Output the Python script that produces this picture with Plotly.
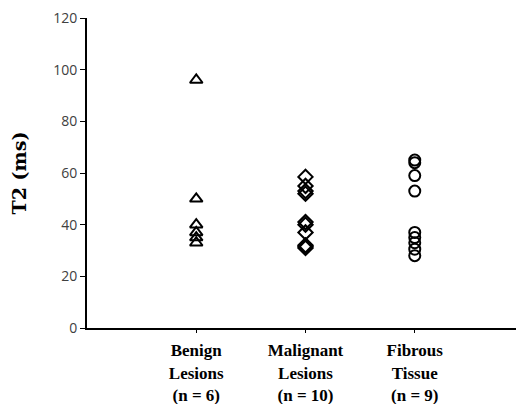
import plotly.graph_objects as go

categories = ["<b>Benign<br>Lesions<br>(n = 6)</b>", "<b>Malignant<br>Lesions<br>(n = 10)</b>", "<b>Fibrous<br>Tissue<br>(n = 9)</b>"]
cat_pos = [1, 2, 3]
benign = [96, 50, 40, 37, 35, 33]
malignant = [58.5, 55, 53, 52, 41, 40, 37, 32, 31.5, 31]
fibrous = [65, 64, 59, 53, 37, 35, 33, 30.5, 28]
y_ticks = [0, 20, 40, 60, 80, 100, 120]

fig = go.Figure()
series = [(benign, "triangle-up-open", 11), (malignant, "diamond-open", 11), (fibrous, "circle-open", 11)]
for i, (vals, sym, sz) in enumerate(series):
    fig.add_trace(go.Scatter(
        x=[cat_pos[i]] * len(vals), y=vals, mode="markers",
        marker=dict(symbol=sym, size=sz, color="black", line=dict(width=2, color="black")),
        showlegend=False, cliponaxis=False))

fig.update_layout(
    width=516, height=396,
    margin=dict(l=79, r=0, t=10, b=76),
    paper_bgcolor="white", plot_bgcolor="white",
    xaxis=dict(range=[0, 4], tickvals=cat_pos, ticktext=categories, automargin=False,
               showline=True, linecolor="black", linewidth=2, showgrid=False, zeroline=False,
               ticks="outside", ticklen=3, tickwidth=1, tickcolor="black",
               ticklabelstandoff=3,
               tickfont=dict(family="Liberation Serif", size=17, color="black"),
               ),
    yaxis=dict(range=[0, 120], tickvals=y_ticks, automargin=False,
               showline=True, linecolor="black", linewidth=2,
               showgrid=False, zeroline=False, ticks="outside", ticklen=5, tickwidth=1, tickcolor="black",
               ticklabeloverflow="allow",
               tickfont=dict(family="Open Sans", size=14, color="#404040"),
               title=dict(text="<b>T2 (ms)</b>", font=dict(family="DejaVu Serif", size=19, color="black"), standoff=26)),
)
fig.write_html("out.html")
